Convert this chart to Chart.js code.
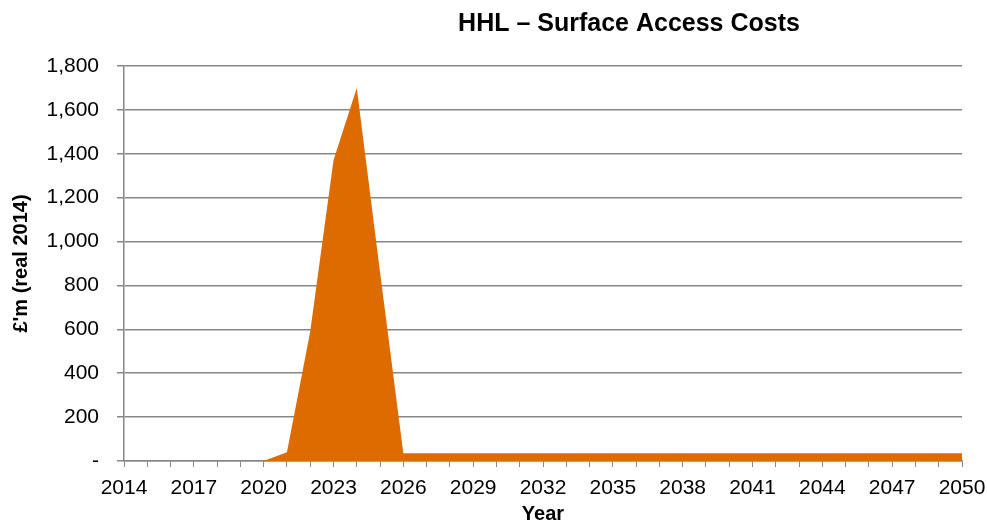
<!DOCTYPE html>
<html>
<head>
<meta charset="utf-8">
<title>HHL – Surface Access Costs</title>
<script src="https://cdn.jsdelivr.net/npm/chart.js@4.4.1/dist/chart.umd.min.js"></script>
<style>
  html, body { margin: 0; padding: 0; background: #fff; }
  #wrap { width: 987px; height: 524px; position: relative; }
</style>
</head>
<body>
<div id="wrap"><canvas id="myChart"></canvas></div>
<script>
// years on the category axis
var years = [];
for (var y = 2014; y <= 2050; y++) years.push(String(y));

var costs = [
  0, 0, 0, 0, 0, 0, 0,           // 2014-2020
  40, 590, 1370, 1700, 860,      // 2021-2025
  35, 35, 35, 35, 35, 35, 35, 35, 35, 35, 35, 35, 35,   // 2026-2038
  35, 35, 35, 35, 35, 35, 35, 35, 35, 35, 35, 35        // 2039-2050
];

var titleText = 'HHL \u2013 Surface Access Costs';
var yTitle = '\u00a3\'m (real 2014)';
var xTitle = 'Year';

var fontFam = "'Liberation Sans', Arial, sans-serif";
var gridGrey = '#878787';

var titlePlugin = {
  id: 'topTitle',
  afterDraw: function(chart) {
    var ctx = chart.ctx;
    ctx.save();
    ctx.font = 'bold 25px ' + fontFam;
    ctx.fillStyle = '#000';
    ctx.textAlign = 'center';
    ctx.textBaseline = 'middle';
    ctx.fillText(titleText, 629, 24);
    ctx.restore();
  }
};

var chartdata = {
  labels: years,
  datasets: [{
    data: costs,
    backgroundColor: '#DD6B00',
    borderWidth: 0,
    pointRadius: 0,
    fill: 'origin',
    tension: 0
  }]
};

var options = {
  responsive: true,
  maintainAspectRatio: false,
  animation: false,
  layout: { padding: { top: 66, right: 25, left: 0, bottom: 0 } },
  plugins: { legend: { display: false }, tooltip: { enabled: false } },
  scales: {
    x: {
      type: 'category',
      offset: false,
      afterFit: function(s) { s.height = 63; s.paddingLeft = 0; s.paddingRight = 0; },
      grid: { drawOnChartArea: false, drawTicks: true, tickLength: 6, tickColor: gridGrey, lineWidth: 1 },
      border: { color: gridGrey, width: 1.5 },
      ticks: {
        autoSkip: false, maxRotation: 0, minRotation: 0, padding: 9,
        color: '#000', font: { family: fontFam, size: 21 },
        callback: function(v, i) { return i % 3 === 0 ? years[i] : ''; }
      },
      title: { display: true, text: xTitle, color: '#000', padding: 0,
        font: { family: fontFam, size: 20, weight: 'bold', lineHeight: 1 } }
    },
    y: {
      min: 0, max: 1800,
      afterFit: function(s) { s.width = 124; s.paddingTop = 0; s.paddingBottom = 0; },
      grid: { color: gridGrey, lineWidth: 1.5, tickLength: 7, tickColor: gridGrey },
      border: { color: gridGrey, width: 1.5 },
      ticks: {
        stepSize: 200, padding: 18,
        color: '#000', font: { family: fontFam, size: 21 },
        callback: function(v) { return v === 0 ? '-' : v.toLocaleString('en-GB'); }
      },
      title: { display: true, text: yTitle, color: '#000', padding: { top: 11, bottom: 0 },
        font: { family: fontFam, size: 20, weight: 'bold', lineHeight: 1 } }
    }
  }
};

var graph = new Chart(document.getElementById('myChart'), {
  type: 'line',
  data: chartdata,
  options: options,
  plugins: [titlePlugin]
});
</script>
</body>
</html>
